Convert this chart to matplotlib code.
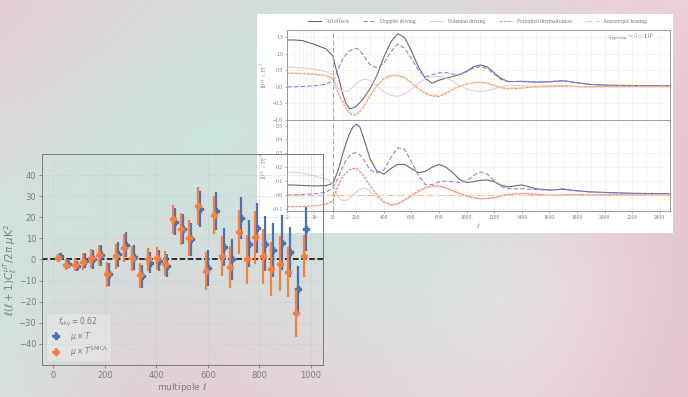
import numpy as np
import matplotlib
matplotlib.use("Agg")
from matplotlib import pyplot as plt
from matplotlib.patches import Rectangle

# ---- left chart: mu x T cross spectrum (binned) ----
ell_smica = [19, 51, 83, 114, 146, 178, 210, 242, 273, 305, 337, 369, 401, 432, 464, 496,
             528, 560, 591, 623, 655, 687, 719, 751, 782, 814, 846, 878, 910, 941, 973]
ell_mut = [27, 59, 91, 122, 154, 186, 218, 250, 281, 313, 345, 377, 409, 440, 472, 504,
           536, 568, 599, 631, 663, 695, 727, 759, 790, 822, 854, 886, 918, 949, 981]
cl_mut = [1.5, -2, -3, -0.5, 0, 2, -7, 2.5, 7, 1, -8, -1.5, -0.5, -3, 18, 14.5,
          9.5, 24, -4, 23, 6, 0, 19.5, 7.5, 15, 7.5, 4.5, 8, 3.5, -14, 14.5]
err_mut = [1.5, 2, 2.5, 3.5, 4.5, 5, 5.5, 6, 6, 6, 5.5, 5, 5, 5.5, 6.5, 7,
           8, 8.5, 8.5, 9, 9, 9.5, 10, 11, 12, 13, 13, 13, 12, 11, 10.5]
cl_smica = [0.8, -2.5, -2.5, -1, 0.5, 2, -7, 1.5, 5.5, 0.5, -7.5, 0, 0.5, -2, 19, 14.5,
            10, 25.5, -5.5, 21, 1.5, -3.5, 13, 0, 10.5, 1.5, -4.5, -2, -6, -25.5, 1.5]
err_smica = [2, 2.5, 3, 4, 4.5, 5, 6, 6, 6.5, 6, 6, 5.5, 5.5, 6, 7, 7.5,
             8.5, 9, 9, 9, 9.5, 10, 10.5, 11.5, 12.5, 13, 13, 13, 12, 11, 10]

# ---- right chart: model spectra ----
ell_model = [2, 3, 5, 10, 20, 30, 50, 75, 100, 125, 150, 175, 200, 225, 250, 275, 300,
             350, 400, 450, 500, 550, 600, 650, 700, 750, 800, 850, 900, 950, 1000,
             1050, 1100, 1150, 1200, 1250, 1300, 1400, 1500, 1600, 1700, 1800, 1900,
             2000, 2200, 2475]

all_top = [1.41, 1.41, 1.39, 1.28, 1.14, 0.93, 0.58, 0.22, -0.2, -0.5, -0.66, -0.64, -0.58,
           -0.48, -0.36, -0.2, -0.05, 0.35, 0.9, 1.35, 1.6, 1.48, 1.08, 0.6, 0.25, 0.11,
           0.2, 0.26, 0.31, 0.37, 0.47, 0.6, 0.66, 0.6, 0.42, 0.25, 0.16, 0.16, 0.14,
           0.15, 0.18, 0.12, 0.07, 0.05, 0.04, 0.03]
doppler_top = [0.0, 0.0, 0.01, 0.03, 0.08, 0.18, 0.35, 0.6, 0.82, 0.98, 1.08, 1.14, 1.16,
               1.08, 0.95, 0.8, 0.66, 0.57, 0.7, 1.05, 1.29, 1.16, 0.85, 0.5, 0.3, 0.36,
               0.42, 0.43, 0.38, 0.37, 0.45, 0.56, 0.61, 0.55, 0.38, 0.22, 0.15, 0.17,
               0.15, 0.16, 0.19, 0.12, 0.07, 0.05, 0.03, 0.02]
potential_top = [0.59, 0.59, 0.57, 0.53, 0.46, 0.36, 0.1, -0.08, -0.14, -0.15, -0.1, 0.0,
                 0.1, 0.18, 0.22, 0.23, 0.18, 0.02, -0.15, -0.26, -0.29, -0.22, -0.08,
                 0.1, 0.24, 0.3, 0.31, 0.27, 0.17, 0.04, -0.06, -0.12, -0.14, -0.12,
                 -0.06, 0.0, 0.04, 0.04, -0.01, 0.0, 0.02, 0.01, 0.0, 0.01, 0.01, 0.01]
thermal_top = [0.41, 0.41, 0.4, 0.38, 0.34, 0.26, 0.0, -0.25, -0.44, -0.65, -0.8, -0.86,
               -0.84, -0.75, -0.62, -0.45, -0.27, 0.05, 0.25, 0.34, 0.35, 0.28, 0.12,
               -0.06, -0.2, -0.28, -0.29, -0.2, -0.08, 0.02, 0.08, 0.13, 0.14, 0.11,
               0.04, -0.03, -0.06, -0.04, 0.01, 0.03, 0.03, 0.01, 0.0, 0.01, 0.01, 0.01]
aniso_top = [0.4, 0.4, 0.39, 0.37, 0.33, 0.25, 0.0, -0.24, -0.42, -0.62, -0.77, -0.83,
             -0.82, -0.73, -0.6, -0.43, -0.26, 0.04, 0.23, 0.32, 0.33, 0.26, 0.11,
             -0.05, -0.18, -0.25, -0.26, -0.18, -0.07, 0.02, 0.07, 0.12, 0.13, 0.1,
             0.04, -0.02, -0.05, -0.03, 0.01, 0.02, 0.02, 0.01, 0.0, 0.0, 0.0, 0.0]

all_bot = [0.072, 0.071, 0.068, 0.065, 0.066, 0.085, 0.13, 0.2, 0.29, 0.37, 0.44, 0.49,
           0.51, 0.49, 0.42, 0.34, 0.26, 0.17, 0.15, 0.19, 0.22, 0.22, 0.19, 0.16, 0.17,
           0.2, 0.22, 0.2, 0.16, 0.11, 0.09, 0.095, 0.105, 0.108, 0.095, 0.07, 0.058,
           0.072, 0.045, 0.035, 0.04, 0.03, 0.022, 0.018, 0.012, 0.008]
doppler_bot = [0.0, 0.0, 0.003, 0.008, 0.02, 0.05, 0.09, 0.14, 0.2, 0.25, 0.28, 0.3, 0.305,
               0.29, 0.26, 0.22, 0.18, 0.16, 0.18, 0.27, 0.34, 0.33, 0.24, 0.14, 0.075,
               0.075, 0.095, 0.1, 0.095, 0.09, 0.1, 0.14, 0.165, 0.15, 0.1, 0.06, 0.045,
               0.045, 0.038, 0.035, 0.045, 0.028, 0.02, 0.016, 0.01, 0.007]
potential_bot = [0.165, 0.163, 0.155, 0.137, 0.114, 0.08, 0.02, -0.025, -0.04, -0.04,
                 -0.025, 0.0, 0.02, 0.04, 0.05, 0.045, 0.025, -0.02, -0.055, -0.072,
                 -0.065, -0.04, -0.01, 0.02, 0.045, 0.058, 0.06, 0.05, 0.03, 0.01, -0.01,
                 -0.022, -0.027, -0.025, -0.015, -0.005, 0.005, 0.01, 0.0, -0.003, 0.002,
                 0.003, 0.0, 0.001, 0.001, 0.001]
thermal_bot = [-0.085, -0.085, -0.083, -0.08, -0.068, -0.045, 0.02, 0.085, 0.13, 0.16,
               0.18, 0.19, 0.19, 0.17, 0.14, 0.105, 0.065, 0.0, -0.05, -0.072, -0.065,
               -0.035, -0.005, 0.03, 0.055, 0.066, 0.065, 0.05, 0.03, 0.01, -0.008, -0.02,
               -0.027, -0.028, -0.02, -0.008, 0.003, 0.011, 0.005, -0.003, -0.002, 0.002,
               0.001, 0.0, 0.0, 0.0]
ell_aniso_bot = [2, 2475]
aniso_bot = [0.0, 0.0]

# background colour field (rows top->bottom, cols left->right)
bg_colors = np.array([
    [(228, 206, 212), (222, 214, 216), (212, 222, 219), (215, 220, 219), (230, 212, 217), (236, 210, 217)],
    [(228, 210, 215), (205, 227, 220), (200, 228, 221), (215, 222, 220), (230, 205, 212), (233, 198, 207)],
    [(212, 225, 220), (200, 228, 221), (210, 224, 221), (210, 225, 222), (226, 214, 218), (230, 195, 205)],
    [(204, 228, 221), (222, 214, 216), (215, 222, 220), (208, 227, 222), (236, 230, 232), (230, 194, 204)],
    [(214, 226, 222), (228, 204, 212), (230, 205, 212), (230, 214, 218), (232, 214, 220), (230, 190, 200)],
]) / 255.0


def fwd(x):
    x = np.asarray(x, dtype=float)
    return np.where(x <= 30, 30 + 281 * np.log10(np.maximum(x, 1e-3) / 30), x)


def inv(u):
    u = np.asarray(u, dtype=float)
    return np.where(u <= 30, 30 * 10 ** ((u - 30) / 281), u)


fig = plt.figure(figsize=(6.88, 3.97), dpi=100)

bg = fig.add_axes([0, 0, 1, 1], zorder=-3)
bg.imshow(bg_colors, extent=[-0.1, 1.1, -0.125, 1.125], aspect="auto",
          interpolation="bicubic")
bg.set_xlim(0, 1)
bg.set_ylim(0, 1)
bg.set_axis_off()

fig.add_artist(Rectangle((0.373, 0.4139), 0.6052, 0.5501, transform=fig.transFigure,
                         facecolor="white", edgecolor="none", zorder=-1))

# ---------------- right chart ----------------
serif = "Liberation Serif"
axt = fig.add_axes([0.4176, 0.6977, 0.5563, 0.2267], zorder=1)
axb = fig.add_axes([0.4176, 0.4685, 0.5563, 0.2292], zorder=1, sharex=axt)
axt.set_xscale("function", functions=(fwd, inv))

styles = [
    ("All effects", "#6a6a6a", "-", 0.8),
    ("Doppler driving", "#8585f2", (0, (4, 2)), 0.8),
    ("Potential driving", "#e8cdd6", "-", 0.8),
    ("Perturbed thermalization", "#ff8473", (0, (2.5, 1)), 0.8),
    ("Anisotropic heating", "#ffc48a", (0, (6, 3)), 0.8),
]
top_series = [all_top, doppler_top, potential_top, thermal_top, aniso_top]
bot_series = [all_bot, doppler_bot, potential_bot, thermal_bot]

handles = []
for (lab, col, ls, lw), ys in zip(styles, top_series):
    h, = axt.plot(ell_model, ys, color=col, ls=ls, lw=lw, label=lab)
    handles.append(h)
for (lab, col, ls, lw), ys in zip(styles[:4], bot_series):
    axb.plot(ell_model, ys, color=col, ls=ls, lw=lw)
axb.plot(ell_aniso_bot, aniso_bot, color=styles[4][1], ls=styles[4][2], lw=0.8)

for a in (axt, axb):
    a.axvline(30, color="#9a9a9a", ls=(0, (6, 3)), lw=0.6)
    a.set_xlim(2, 2475)
    a.set_xticks([2, 10, 30] + list(range(200, 2401, 200)))
    a.set_xticks([3, 4, 5, 6, 7, 8, 9, 20] + list(range(100, 2500, 200)), minor=True)
    a.grid(True, which="both", color="#eeeeee", lw=0.4)
    a.set_axisbelow(True)
    a.tick_params(labelsize=4, length=1.5, width=0.4, colors="#777777", pad=1.5)
    a.tick_params(which="minor", length=1, width=0.3, colors="#999999")
    for s in a.spines.values():
        s.set_color("#8a8a8a")
        s.set_linewidth(0.6)

axt.set_ylim(-1.0, 1.71)
axt.set_yticks([-1.0, -0.5, 0.0, 0.5, 1.0, 1.5])
axt.tick_params(labelbottom=False)
axb.set_ylim(-0.116, 0.54)
axb.set_yticks([-0.1, 0.0, 0.1, 0.2, 0.3, 0.4, 0.5])
axb.set_xticklabels(["2", "10", "30"] + [str(v) for v in range(200, 2401, 200)])
for t in axb.get_xticklabels() + axb.get_yticklabels() + axt.get_yticklabels():
    t.set_fontfamily(serif)

axt.set_ylabel(r"$10^{14}\times\mathcal{D}_\ell^{\mu T}$", fontsize=4, color="#777777",
               labelpad=3, math_fontfamily="cm")
axb.set_ylabel(r"$10^{15}\times\mathcal{D}_\ell^{\mu E}$", fontsize=4, color="#777777",
               labelpad=3, math_fontfamily="cm")
axb.set_xlabel(r"$\ell$", fontsize=5, color="#777777", labelpad=1, math_fontfamily="cm")
axt.text(0.96, 0.985, r"$z_{\rm injection} = 5\times10^5$", transform=axt.transAxes,
         ha="right", va="top", fontsize=4.5, color="#777777", math_fontfamily="cm")

leg_r = fig.legend(handles=handles, loc="center", bbox_to_anchor=(0.694, 0.947), ncol=5,
                   frameon=False, handlelength=2.4, columnspacing=2.5,
                   handletextpad=0.8, prop={"family": serif, "size": 4})
for t in leg_r.get_texts():
    t.set_color("#777777")

# ---------------- left chart ----------------
blue = "#4b72b2"
orange = "#fb7f3c"
ax = fig.add_axes([0.0606, 0.0806, 0.409, 0.5315], zorder=3)
ax.set_facecolor("none")
ax.axhline(0, color="black", ls="--", lw=1.1, zorder=1)
ax.errorbar(ell_mut, cl_mut, yerr=err_mut, xerr=9, fmt="P", color=blue, ms=5,
            elinewidth=1.6, capsize=0, label=r"$\mu \times T$", zorder=2)
ax.errorbar(ell_smica, cl_smica, yerr=err_smica, xerr=9, fmt="P", color=orange, ms=5,
            elinewidth=1.6, capsize=0, label=r"$\mu \times T^{\rm SMICA}$", zorder=3)
ax.set_xlim(-45, 1047)
ax.set_ylim(-50, 50)
ax.set_xticks([0, 200, 400, 600, 800, 1000])
ax.set_yticks([-40, -30, -20, -10, 0, 10, 20, 30, 40])
ax.grid(True, color="#c8c8c8", lw=0.4, alpha=0.6)
ax.set_axisbelow(True)
ax.tick_params(labelsize=6, colors="#808080", length=2.5, width=0.6, pad=1.5)
for s in ax.spines.values():
    s.set_color("#7a7a7a")
    s.set_linewidth(0.7)
ax.set_xlabel(r"multipole $\ell$", fontsize=6.5, color="#808080")
ax.xaxis.set_label_coords(0.5, -0.078)
ax.set_ylabel(r"$\ell(\ell+1)C_\ell^{\mu T}/2\pi\ \mu{\rm K}^2$", fontsize=7.5,
              color="#808080")
ax.yaxis.set_label_coords(-0.082, 0.45)
leg = ax.legend(loc="lower left", fontsize=5.5, title=r"$f_{\rm sky} = 0.62$",
                title_fontsize=5.5, frameon=True, framealpha=0.25, edgecolor="#c0c0c0",
                borderpad=0.35, labelspacing=0.15)
leg.get_title().set_color("#808080")
for t in leg.get_texts():
    t.set_color("#808080")

fig.savefig("out.png", dpi=100)
